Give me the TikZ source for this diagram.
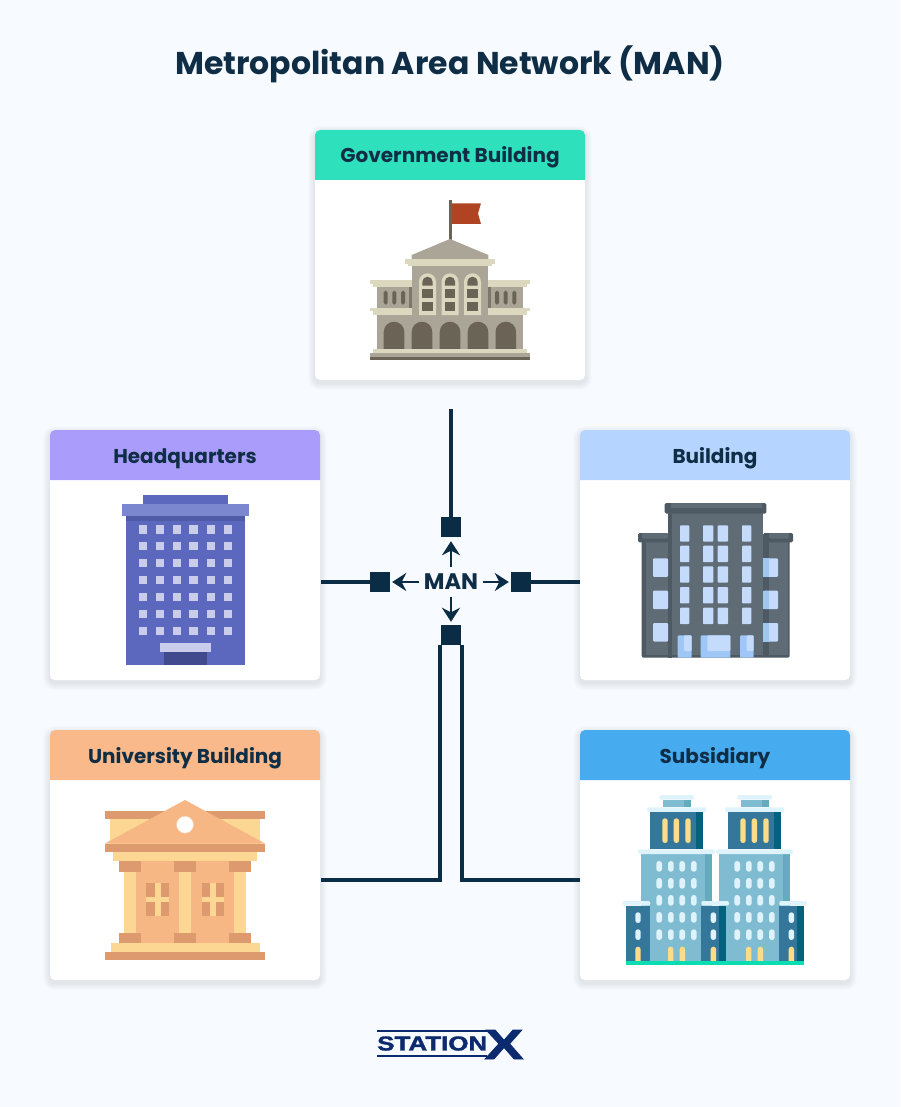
\documentclass[tikz,border=0pt]{standalone}
\usepackage{fontspec}
\usepackage{graphicx}
\setmainfont{Poppins}
\newfontfamily\logofont[BoldFeatures={FakeBold=1.6}]{Liberation Sans}
\usetikzlibrary{arrows.meta,calc}
\definecolor{bgc}{HTML}{F7FBFF}
\definecolor{ink}{HTML}{0F2E46}
\definecolor{wirec}{HTML}{0B2C45}
\definecolor{hgreen}{HTML}{2FE0BD}
\definecolor{hpurple}{HTML}{A99CFB}
\definecolor{hblue}{HTML}{B5D4FF}
\definecolor{horange}{HTML}{F9B98A}
\definecolor{hsky}{HTML}{47ABF0}
\definecolor{logoc}{HTML}{0C2A6E}
% government
\definecolor{gwall}{HTML}{ABA598}
\definecolor{gcream}{HTML}{DCD7BF}
\definecolor{gdark}{HTML}{6B6355}
\definecolor{gflag}{HTML}{B04422}
% hq
\definecolor{qbody}{HTML}{5B68BD}
\definecolor{qroof}{HTML}{7B87CF}
\definecolor{qshade}{HTML}{4F5BA6}
\definecolor{qwin}{HTML}{C9CDEB}
\definecolor{qdoor}{HTML}{414A8C}
% building
\definecolor{bbody}{HTML}{5F6B75}
\definecolor{bdark}{HTML}{4E5A63}
\definecolor{bwin}{HTML}{C4DBFB}
\definecolor{bblue}{HTML}{9EC7F7}
% university
\definecolor{utan}{HTML}{DC9A6E}
\definecolor{uyel}{HTML}{FCD793}
\definecolor{upeach}{HTML}{F6B785}
% subsidiary
\definecolor{slight}{HTML}{7FBCD1}
\definecolor{sshade}{HTML}{65ABBD}
\definecolor{sdark}{HTML}{35779A}
\definecolor{sdeep}{HTML}{04627F}
\definecolor{sice}{HTML}{DFF3FC}
\definecolor{syel}{HTML}{FCDC88}
\definecolor{sgreen}{HTML}{0BDCB2}

\newcommand{\bx}[5]{\fill[#5] (#1,#2) rectangle (#3,#4);}
\newcommand{\rbx}[6]{\fill[#6,rounded corners=#5pt] (#1,#2) rectangle (#3,#4);}
\newcommand{\archbx}[5]{\fill[#5] (#1,#4) -- (#1,{#2+((#3)-(#1))/2}) arc (180:360:{((#3)-(#1))/2}) -- (#3,#4) -- cycle;}
% name, left, top, header colour, title
\newcommand{\mkcard}[5]{%
  \foreach \e in {1,...,7}
    \fill[black,opacity=.010,rounded corners={(5+\e)*1pt}]
      ({#2-\e},{#3-\e+3}) rectangle ({#2+270+\e},{#3+250+\e+3});
  \node[cardbox] (#1) at ({#2+135},{#3+125}) {};
  \fill[#4] (#2,{#3+50}) [rounded corners=5pt] -- (#2,#3) -- ({#2+270},#3) [sharp corners] -- ({#2+270},{#3+50}) -- cycle;
  \node[cardtitle] (#1t) at ({#2+135},{#3+33}) {#5};
}
\tikzset{
  cardbox/.style={fill=white,rounded corners=5pt,minimum width=270pt,minimum height=250pt,inner sep=0pt},
  cardtitle/.style={text=ink,font=\fontsize{20}{24}\selectfont\bfseries,inner sep=0pt,anchor=base},
  port/.style={fill=wirec,minimum size=20pt,inner sep=0pt},
  wire/.style={draw=wirec,line width=4pt},
  wirethin/.style={draw=wirec,line width=3.6pt},
  flow/.style={draw=wirec,line width=2.2pt,-{Stealth[length=14pt,width=18pt,inset=4.5pt]}},
}
\begin{document}
\begin{tikzpicture}[x=1pt,y=-1pt]
\useasboundingbox (0,0) rectangle (900,1107);
\fill[bgc] (0,0) rectangle (900,1107);
\node[text=ink,font=\fontsize{31.5}{38}\selectfont\bfseries,inner sep=0pt] (title) at (450,64) {Metropolitan Area Network (MAN)};

\mkcard{gov}{315}{130}{hgreen}{Government Building}
\mkcard{hq}{50}{430}{hpurple}{Headquarters}
\mkcard{bld}{580}{430}{hblue}{Building}
\mkcard{uni}{50}{730}{horange}{University Building}
\mkcard{sub}{580}{730}{hsky}{Subsidiary}

% ---- connectors
\node[port] (sqT) at (451,527) {};
\node[port] (sqL) at (380,582) {};
\node[port] (sqR) at (521,582) {};
\node[port] (sqB) at (451,635) {};
\node[minimum width=63pt,minimum height=29pt,inner sep=0pt,text=ink,font=\fontsize{22.5}{26}\selectfont\bfseries] (man) at (451,582) {MAN};
\coordinate (govport) at (451,409);
\coordinate (uniport) at (321,880);
\coordinate (subport) at (580,880);
\draw[wire] (govport) -- (sqT.north);
\draw[wirethin] (sqL.west) -- ([xshift=1pt]sqL.west -| hq.east);
\draw[wirethin] (sqR.east) -- (sqR.east -| bld.west);
\draw[wirethin] ([xshift=-11pt]sqB.south) |- (uniport);
\draw[wirethin] ([xshift=11pt]sqB.south) |- (subport);
\draw[flow,shorten >=4pt] (man.north) -- (sqT.south);
\draw[flow,shorten >=2pt] (man.west) -- (sqL.east);
\draw[flow,shorten >=2pt] (man.east) -- (sqR.west);
\draw[flow,shorten >=3pt] (man.south) -- (sqB.north);

% ---- government building
\bx{448.5}{200}{451.7}{240}{gdark}
\fill[gflag,rounded corners=.6pt] (451.7,203.3) -- (481,203.3) -- (478,213.5) -- (481,224) -- (451.7,224) -- cycle;
\fill[gwall] (411.7,255) -- (450,239) -- (488.3,255) -- (488.3,260) -- (411.7,260) -- cycle;
\bx{376.7}{286}{523.3}{353}{gwall}
\bx{411.7}{264}{488.3}{353}{gwall}
\bx{405}{259}{495}{264}{gcream}
\bx{408}{264}{492}{266}{gcream}
\foreach \a/\b/\c/\d in {370/411.7/373/411.7, 488.3/530/488.3/527}{
  \bx{\a}{280}{\b}{284}{gcream}
  \bx{\c}{284}{\d}{287}{gcream}
  \bx{\a}{307.7}{\b}{310.7}{gcream}
  \bx{\c}{310.7}{\d}{315}{gcream}
}
\bx{409.3}{287}{411.7}{307.7}{gdark!70!gwall}
\bx{488.3}{287}{490.7}{307.7}{gdark!70!gwall}
\foreach \x in {383.7,392.3,401,495,503.7,512.3}{
  \rbx{\x}{290.7}{\x+4}{304.7}{1.8}{gdark}
}
\foreach \x in {419,441.5,464}{
  \archbx{\x}{273.3}{\x+17}{315}{gcream}
  \archbx{\x+3.3}{276.7}{\x+13.7}{285.7}{gdark}
  \bx{\x+3.3}{289.3}{\x+13.7}{298.3}{gdark}
  \bx{\x+3.3}{302}{\x+13.7}{311.3}{gdark}
}
\foreach \x in {383.7,411.7,439.7,467.7,495.5}{
  \archbx{\x}{321.7}{\x+20.6}{349.3}{gdark}
}
\bx{373.3}{349.3}{526.7}{353.3}{gcream}
\bx{370}{353.3}{530}{356.7}{gwall}
\bx{370}{356.7}{530}{360}{gdark}

% ---- headquarters
\bx{143.3}{495}{228}{503.7}{qbody}
\bx{126.3}{516.3}{245}{664.7}{qbody}
\bx{126.3}{516.3}{245}{520.7}{qshade}
\bx{122}{503.7}{249}{516.3}{qroof}
\foreach \x in {138.7,155.7,172.7,189.3,206.7,223.7}{
  \foreach \y in {525,541.7,558.7,575.7,592.7,609.7,626.7}{
    \bx{\x}{\y}{\x+8.7}{\y+8.7}{qwin}
  }
}
\bx{160}{643.3}{211}{652}{qwin}
\bx{164.3}{652}{206.7}{664.7}{qdoor}

% ---- building
\rbx{641.7}{540}{789.7}{657.7}{2}{bdark}
\bx{645.5}{542.3}{667.7}{655}{bbody}
\bx{769}{542.3}{788}{655}{bbody}
\rbx{638}{533}{668}{542.3}{1.5}{bdark}
\rbx{642}{533}{668}{538.5}{1}{bbody}
\rbx{763}{533}{793}{542.3}{1.5}{bdark}
\rbx{769}{533}{789}{538.5}{1}{bbody}
\bx{667.7}{511}{763.3}{655}{bbody}
\bx{667.7}{513.7}{672.3}{657.7}{bdark}
\rbx{664.7}{503}{766.3}{513.7}{1.5}{bdark}
\bx{671}{503}{762}{508}{bbody}
\foreach \x/\w in {680/9.3,703/10.3,717.7/10.3,742/9.3}{
  \foreach \y in {525.3,545.7,566.3,587,607.7}{
    \rbx{\x}{\y}{\x+\w}{\y+16.4}{.8}{bwin}
  }
}
\foreach \y in {558.3,590.7,623}{
  \rbx{653}{\y}{668}{\y+18.5}{1}{bwin}
  \rbx{763.3}{\y}{778}{\y+18.5}{1}{bwin}
  \bx{763.3}{\y}{768.5}{\y+18.5}{bblue}
}
\foreach \a/\b/\c in {677.7/691.7/684,700.7/730.3/707.3,740/753.7/746.7}{
  \rbx{\a}{635.3}{\b}{657.7}{1}{bblue}
  \rbx{\c}{635.3}{\b}{651}{1}{bwin}
}

% ---- university
\bx{105}{811}{265}{819}{utan}
\bx{110}{819}{260}{845}{uyel}
\fill[upeach] (185,800) -- (105,843.5) -- (265,843.5) -- cycle;
\fill[white,draw=upeach!60!white,line width=.5pt] (185,824.7) circle (8.5);
\bx{105}{844.3}{265}{852.3}{utan}
\bx{113.3}{852.3}{256.7}{860.7}{uyel}
\bx{135.7}{860.7}{234.3}{943.3}{upeach}
\foreach \a/\b/\c/\d in {124/135.7/118.7/141, 179/191/174/196, 234.3/245.7/229.3/251.3}{
  \bx{\a}{871.7}{\b}{932.7}{uyel}
  \bx{\c}{860.7}{\d}{871.7}{utan}
  \bx{\c}{932.7}{\d}{943.3}{utan}
}
\foreach \a/\b/\c in {146/168.7/154.7, 201.7/223.7/210}{
  \bx{\a}{882.7}{\b}{916}{utan}
  \bx{\c}{882.7}{\c+6}{916}{uyel}
  \bx{\a}{896.7}{\b}{902}{uyel}
}
\bx{110.7}{943.3}{259.7}{951.7}{uyel}
\bx{105}{951.7}{265}{960}{utan}

% ---- subsidiary
\foreach \s in {0,78}{
  \rbx{659.3+\s}{795}{694+\s}{799.7}{2}{sice}
  \bx{662.7+\s}{799.7}{690.7+\s}{807.3}{slight}
  \bx{684+\s}{799.7}{690.7+\s}{807.3}{sshade}
  \rbx{647+\s}{807.3}{706.3+\s}{812}{2}{sice}
  \bx{650.3+\s}{812}{703+\s}{849.3}{sdark}
  \bx{696+\s}{812}{703+\s}{849.3}{sdeep}
  \foreach \x in {662.3,673.7,685.3}{
    \rbx{\x+\s}{818.3}{\x+5.4+\s}{843}{2.6}{syel}
  }
  \bx{641.3+\s}{854}{712+\s}{960.7}{slight}
  \bx{705+\s}{854}{712+\s}{960.7}{sshade}
  \rbx{638+\s}{849.3}{715+\s}{854}{2}{sice}
  \foreach \x in {656.3,668,679.3,691}{
    \foreach \y in {861,878,895,912,929.3}{
      \rbx{\x+\s}{\y}{\x+5.7+\s}{\y+10.7}{2.7}{sice}
    }
  }
  \rbx{668+\s}{946.7}{673.3+\s}{965}{2.5}{syel}
  \rbx{679.7+\s}{946.7}{685+\s}{965}{2.5}{syel}
}
\foreach \a/\b/\c/\d/\w in {622.7/650.3/625.7/650.3/635.3, 701.3/729/701.3/726/710.7, 779.3/807/779.3/804/788.7}{
  \bx{\c}{905.7}{\d}{960.7}{sdark}
  \rbx{\a}{901}{\b}{905.7}{2}{sice}
  \rbx{\w}{912.3}{\w+5.4}{923}{2.6}{sice}
  \rbx{\w}{929.3}{\w+5.4}{940}{2.6}{sice}
  \rbx{\w}{946.7}{\w+5.4}{965}{2.6}{syel}
}
\bx{719.3}{905.7}{726}{960.7}{sdeep}
\bx{797.3}{905.7}{804}{960.7}{sdeep}
\bx{625.7}{960.7}{804}{965}{sgreen}

% ---- logo
\bx{377}{1030}{487}{1032}{logoc}
\bx{377}{1055}{487}{1057}{logoc}
\node[text=logoc,inner sep=0pt,anchor=west] (logoa) at (377,1043.5) {\logofont\bfseries\resizebox{110pt}{14pt}{STATION}};
\node[text=logoc,inner sep=0pt] (logob) at (504,1044.5) {\logofont\bfseries\resizebox{39pt}{29pt}{X}};
\end{tikzpicture}
\end{document}
